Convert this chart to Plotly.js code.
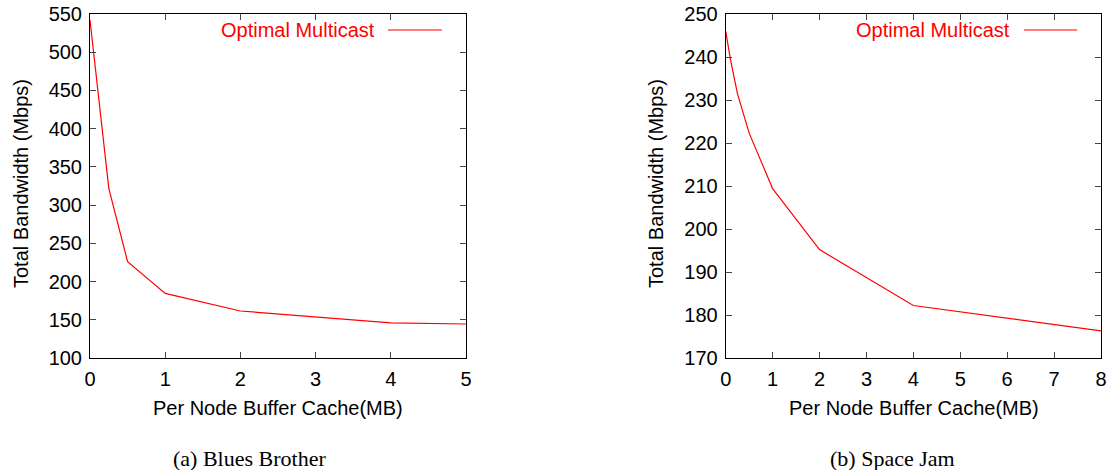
<!DOCTYPE html>
<html>
<head>
<meta charset="utf-8">
<script src="https://cdn.plot.ly/plotly-3.0.1.min.js"></script>
<style>html,body{margin:0;padding:0;background:#fff;}#chart{width:1109px;height:470px;}</style>
</head>
<body>
<div id="chart"></div>
<script>
// Data: (a) Blues Brother
const bluesX = [0, 0.25, 0.5, 1, 2, 4, 5];
const bluesY = [542, 322, 226, 184.5, 161.5, 146, 144.5];
// Data: (b) Space Jam
const jamX = [0, 0.1, 0.25, 0.5, 1, 2, 4, 8];
const jamY = [246, 239.5, 231.5, 222.3, 209.4, 195.2, 182.2, 176.3];
const seriesName = "Optimal Multicast";
const xTitle = "Per Node Buffer Cache(MB)";
const yTitle = "Total Bandwidth (Mbps)";
const captions = ["(a) Blues Brother", "(b) Space Jam"];
const xTicksA = [0, 1, 2, 3, 4, 5];
const yTicksA = [100, 150, 200, 250, 300, 350, 400, 450, 500, 550];
const xTicksB = [0, 1, 2, 3, 4, 5, 6, 7, 8];
const yTicksB = [170, 180, 190, 200, 210, 220, 230, 240, 250];

const W = 1109, H = 470;
const px = v => v / W, py = v => 1 - v / H;
const font = {family: "Liberation Sans, Arial, sans-serif", size: 20, color: "#000"};
const red = "#ff0000";

const axisCommon = {
  showgrid: false, zeroline: false, showline: true, linecolor: "#000", linewidth: 1,
  mirror: "allticks", ticks: "inside", ticklen: 6, tickcolor: "#444", tickwidth: 1,
  tickfont: font, ticklabelstandoff: 3
};

const traces = [
  {x: bluesX, y: bluesY, type: "scatter", mode: "lines", name: seriesName,
   line: {color: red, width: 1.2}, xaxis: "x", yaxis: "y", showlegend: false},
  {x: jamX, y: jamY, type: "scatter", mode: "lines", name: seriesName,
   line: {color: red, width: 1.2}, xaxis: "x2", yaxis: "y2", showlegend: false}
];

const dom = [py(358), py(14)];
const layout = {
  width: W, height: H,
  margin: {l: 0, r: 0, t: 0, b: 0},
  paper_bgcolor: "#fff", plot_bgcolor: "#fff",
  font: font,
  showlegend: false,
  xaxis: Object.assign({}, axisCommon, {domain: [px(90), px(466)], range: [0, 5], tickvals: xTicksA, anchor: "y"}),
  yaxis: Object.assign({}, axisCommon, {domain: dom, range: [100, 550], tickvals: yTicksA, anchor: "x"}),
  xaxis2: Object.assign({}, axisCommon, {domain: [px(725.7), px(1101)], range: [0, 8], tickvals: xTicksB, anchor: "y2"}),
  yaxis2: Object.assign({}, axisCommon, {domain: dom, range: [170, 250], tickvals: yTicksB, anchor: "x2"}),
  annotations: [
    {xref: "paper", yref: "paper", x: px(21), y: py(184), text: yTitle, textangle: -90, showarrow: false, font: font, xanchor: "center", yanchor: "middle"},
    {xref: "paper", yref: "paper", x: px(656), y: py(184), text: yTitle, textangle: -90, showarrow: false, font: font, xanchor: "center", yanchor: "middle"},
    {xref: "paper", yref: "paper", x: px(277.5), y: py(408), text: xTitle, showarrow: false, font: font, xanchor: "center", yanchor: "middle"},
    {xref: "paper", yref: "paper", x: px(913.8), y: py(408), text: xTitle, showarrow: false, font: font, xanchor: "center", yanchor: "middle"},
    {xref: "paper", yref: "paper", x: px(249), y: py(458), text: captions[0], showarrow: false, font: {family: "Liberation Serif, Times New Roman, serif", size: 22, color: "#000"}, xanchor: "center", yanchor: "middle"},
    {xref: "paper", yref: "paper", x: px(892), y: py(458), text: captions[1], showarrow: false, font: {family: "Liberation Serif, Times New Roman, serif", size: 22, color: "#000"}, xanchor: "center", yanchor: "middle"},
    {xref: "paper", yref: "paper", x: px(377), y: py(30), text: seriesName, showarrow: false, font: Object.assign({}, font, {color: red}), xanchor: "right", yanchor: "middle"},
    {xref: "paper", yref: "paper", x: px(1012), y: py(30), text: seriesName, showarrow: false, font: Object.assign({}, font, {color: red}), xanchor: "right", yanchor: "middle"}
  ],
  shapes: [
    {type: "line", xref: "paper", yref: "paper", x0: px(388), x1: px(442), y0: py(30), y1: py(30), line: {color: red, width: 1.2}},
    {type: "line", xref: "paper", yref: "paper", x0: px(1024), x1: px(1077), y0: py(30), y1: py(30), line: {color: red, width: 1.2}}
  ]
};

Plotly.newPlot("chart", traces, layout, {staticPlot: true, displayModeBar: false});
</script>
</body>
</html>
